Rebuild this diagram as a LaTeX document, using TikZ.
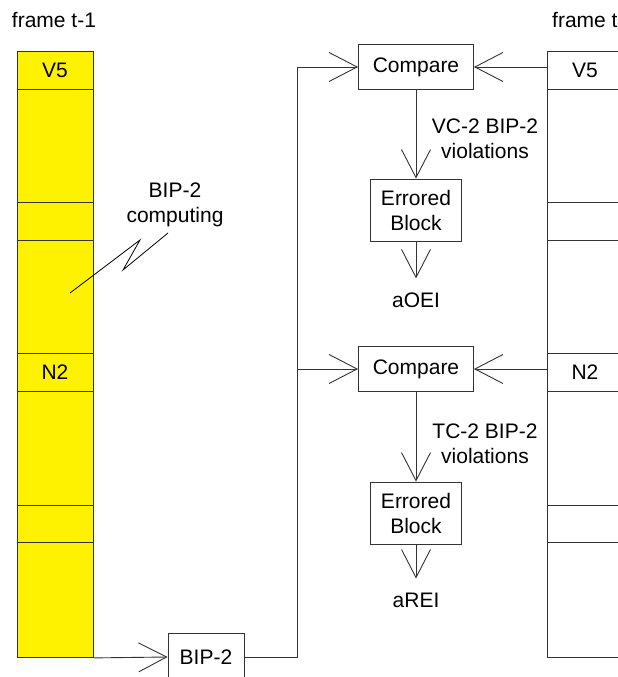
\documentclass[tikz,border=0pt]{standalone}
\usepackage{fontspec}
\setmainfont{Liberation Sans}
\usepackage{xcolor}
\usepackage{tikz}
\usetikzlibrary{positioning,arrows.meta}

\tikzset{
  wire/.style={draw=black!80, line width=0.9pt},
  vee/.style={-{Straight Barb[length=28pt,width=29pt]}},
  box/.style={wire, fill=white, inner sep=0pt, align=center},
  column/.style={wire, minimum width=76pt, minimum height=606pt, inner sep=0pt},
  outlabel/.style={inner xsep=2pt, inner ysep=14pt},
}

\begin{document}
\begin{tikzpicture}[x=1pt,y=-1pt,font=\fontsize{21}{25}\selectfont]

\useasboundingbox (0,0) rectangle (618,677);

% the two frames
\node[column, fill=yellow, anchor=north west] (colL) at (17,51) {};
\node[column, anchor=north west] (colR) at (547,51) {};
\foreach \y in {89,202,240,353,391,505,542} {
  \draw[wire] (17,\y) -- ++(76,0);
  \draw[wire] (547,\y) -- ++(76,0);
}

\node (frL) at (54,20) {frame t-1};
\node[anchor=west, inner sep=0pt] (frR) at (552,20) {frame t};

\node (v5L) at (55,70) {V5};
\node (n2L) at (55,372) {N2};
\node (v5R) at (585,70) {V5};
\node (n2R) at (585,372) {N2};

\node[align=center] (bipc) at (175,205) {BIP-2\\computing};
\draw[black, line width=0.8pt] (70,293) -- (140,240) -- (123,270) -- (168,233);

% BIP-2 computation and comparison
\node[box, minimum width=76pt, minimum height=48pt] (bip) at (206,657) {BIP-2};
\coordinate (bus) at (297,67);

\node[box, minimum width=115pt, minimum height=45pt] (cmpA) at (416,67) {Compare};
\node[box, minimum width=91pt, minimum height=62pt] (errA) at (416,210) {Errored\\Block};
\node[outlabel] (aoei) at (416,300) {aOEI};
\node[align=center] (vioA) at (485,139) {VC-2 BIP-2\\violations};

\node[box, minimum width=115pt, minimum height=45pt] (cmpB) at (416,369) {Compare};
\node[box, minimum width=91pt, minimum height=62pt] (errB) at (416,513) {Errored\\Block};
\node[outlabel] (arei) at (416,600) {aREI};
\node[align=center] (vioB) at (485,444) {TC-2 BIP-2\\violations};

\draw[wire, vee] (colL.south east) -- (bip.west);
\draw[wire, vee] (bip.east) -| (bus) -- (cmpA.west);
\draw[wire, vee] (bus |- cmpB) -- (cmpB.west);

\draw[wire, vee] (colR.west |- cmpA) -- (cmpA.east);
\draw[wire, vee] (colR.west |- cmpB) -- (cmpB.east);

\draw[wire, vee] (cmpA) -- (errA);
\draw[wire, vee] (errA) -- (aoei);
\draw[wire, vee] (cmpB) -- (errB);
\draw[wire, vee] (errB) -- (arei);

\end{tikzpicture}
\end{document}
